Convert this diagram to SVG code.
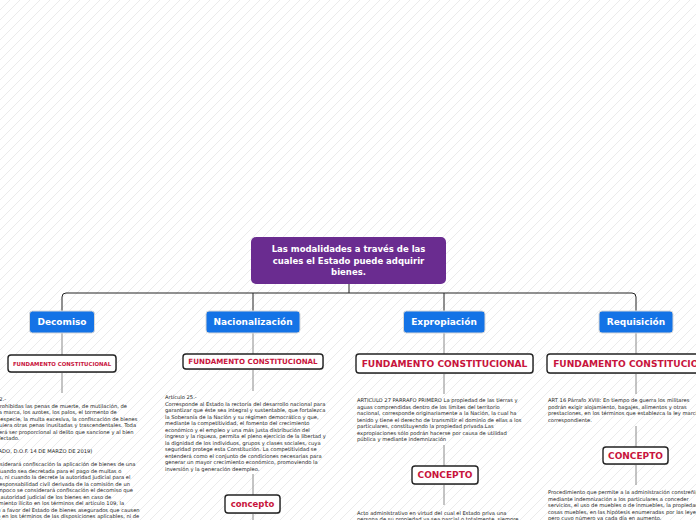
<svg xmlns="http://www.w3.org/2000/svg" width="696" height="520" viewBox="0 0 696 520">
<style>
.root{fill:#6a2c90}
.rt{font-family:"DejaVu Sans",Verdana,sans-serif;font-weight:bold;font-size:8.5px;fill:#fff;text-anchor:middle}
.blue{fill:#1473e6;stroke:#d8d8d8;stroke-width:1}
.bt{font-family:"DejaVu Sans",Verdana,sans-serif;font-weight:bold;font-size:9px;fill:#fff;text-anchor:middle}
.wb{fill:#fff;stroke:#222;stroke-width:1.4}
.sh{fill:#cfcfcf}
.red{font-family:"DejaVu Sans",Verdana,sans-serif;font-weight:bold;fill:#c8143c;text-anchor:middle}
.body{font-family:"DejaVu Sans",Verdana,sans-serif;font-size:5.2px;fill:#222}
.c1{fill:none;stroke:#222;stroke-width:1}
.c2{fill:none;stroke:#8a8a8a;stroke-width:1}
</style>
<defs>
<pattern id="hatch" width="10" height="10" patternUnits="userSpaceOnUse">
<path d="M-1,1 L1,-1 M0,10 L10,0 M9,11 L11,9" stroke="#ebebeb" stroke-width="1"/>
</pattern>
</defs>
<rect width="696" height="520" fill="#fff"/>
<rect width="696" height="520" fill="url(#hatch)"/>

<g id="connectors">
<path class="c1" d="M349,284 V293"/>
<path class="c1" d="M62,311 V297 Q62,293 66,293 H632 Q636,293 636,297 V311"/>
<path class="c1" d="M253,293 V311 M444,293 V311"/>
<path class="c2" d="M62,333 V355 M62,372 V393"/>
<path class="c2" d="M253,333 V354 M253,369 V391 M253,474 V495 M253,513 V520"/>
<path class="c2" d="M444,333 V354 M444,373 V394 M444,445 V466 M444,484 V505"/>
<path class="c2" d="M636,333 V354 M636,373 V394 M636,426 V447 M636,464 V485"/>
</g>

<g id="root">
<rect class="root" x="251" y="237" width="195" height="47" rx="5"/>
<text class="rt" x="348.5" y="252">Las modalidades a través de las</text>
<text class="rt" x="348.5" y="263.5">cuales el Estado puede adquirir</text>
<text class="rt" x="348.5" y="275">bienes.</text>
</g>

<g id="decomiso">
<rect class="blue" x="29.5" y="311" width="65" height="22" rx="3"/>
<text class="bt" x="62" y="325.3">Decomiso</text>
</g>
<g id="nacionalizacion">
<rect class="blue" x="206" y="311" width="94" height="22" rx="3"/>
<text class="bt" x="253" y="325.3">Nacionalización</text>
</g>
<g id="expropiacion">
<rect class="blue" x="403.5" y="311" width="81.5" height="22" rx="3"/>
<text class="bt" x="444" y="325.3">Expropiación</text>
</g>
<g id="requisicion">
<rect class="blue" x="599" y="311" width="74" height="22" rx="3"/>
<text class="bt" x="636" y="325.3">Requisición</text>
</g>

<g id="fund-decomiso">
<rect class="sh" x="9" y="356" width="108" height="17" rx="3"/>
<rect class="wb" x="8" y="355" width="108" height="17" rx="3"/>
<text class="red" x="62" y="365.5" font-size="5.4">FUNDAMENTO CONSTITUCIONAL</text>
</g>
<g id="fund-nacionalizacion">
<rect class="sh" x="184" y="355" width="140" height="15" rx="3"/>
<rect class="wb" x="183" y="354" width="140" height="15" rx="3"/>
<text class="red" x="253" y="364" font-size="7.1">FUNDAMENTO CONSTITUCIONAL</text>
</g>
<g id="fund-expropiacion">
<rect class="sh" x="357" y="355" width="177" height="19" rx="3"/>
<rect class="wb" x="356" y="354" width="177" height="19" rx="3"/>
<text class="red" x="444.5" y="366.8" font-size="9.1">FUNDAMENTO CONSTITUCIONAL</text>
</g>
<g id="fund-requisicion">
<rect class="sh" x="548" y="355" width="178" height="19" rx="3"/>
<rect class="wb" x="547" y="354" width="178" height="19" rx="3"/>
<text class="red" x="636" y="366.8" font-size="9.1">FUNDAMENTO CONSTITUCIONAL</text>
</g>

<g id="text-decomiso">
<text class="body" x="-25.5" y="401">
<tspan x="-25.5" dy="0">Artículo 22.-</tspan>
<tspan x="-25.5" dy="6.5">Quedan prohibidas las penas de muerte, de mutilación, de</tspan>
<tspan x="-25.5" dy="6.5">infamia, la marca, los azotes, los palos, el tormento de</tspan>
<tspan x="-25.5" dy="6.5">cualquier especie, la multa excesiva, la confiscación de bienes</tspan>
<tspan x="-25.5" dy="6.5">y cualesquiera otras penas inusitadas y trascendentales. Toda</tspan>
<tspan x="-25.5" dy="6.5">pena deberá ser proporcional al delito que sancione y al bien</tspan>
<tspan x="-25.5" dy="6.5">jurídico afectado.</tspan>
<tspan x="-25.5" dy="13">(REFORMADO, D.O.F. 14 DE MARZO DE 2019)</tspan>
<tspan x="-25.5" dy="13">No se considerará confiscación la aplicación de bienes de una</tspan>
<tspan x="-25.5" dy="6.5">persona cuando sea decretada para el pago de multas o</tspan>
<tspan x="-25.5" dy="6.5">impuestos, ni cuando la decrete la autoridad judicial para el</tspan>
<tspan x="-25.5" dy="6.5">pago de responsabilidad civil derivada de la comisión de un</tspan>
<tspan x="-25.5" dy="6.5">delito. Tampoco se considerará confiscación el decomiso que</tspan>
<tspan x="-25.5" dy="6.5">ordene la autoridad judicial de los bienes en caso de</tspan>
<tspan x="-25.5" dy="6.5">enriquecimiento ilícito en los términos del artículo 109, la</tspan>
<tspan x="-25.5" dy="6.5">aplicación a favor del Estado de bienes asegurados que causen</tspan>
<tspan x="-25.5" dy="6.5">abandono en los términos de las disposiciones aplicables, ni de</tspan>
</text>
</g>

<g id="text-nacionalizacion">
<text class="body" x="165" y="399">
<tspan x="165" dy="0">Artículo 25.-</tspan>
<tspan x="165" dy="6.5">Corresponde al Estado la rectoría del desarrollo nacional para</tspan>
<tspan x="165" dy="6.5">garantizar que éste sea integral y sustentable, que fortalezca</tspan>
<tspan x="165" dy="6.5">la Soberanía de la Nación y su régimen democrático y que,</tspan>
<tspan x="165" dy="6.5">mediante la competitividad, el fomento del crecimiento</tspan>
<tspan x="165" dy="6.5">económico y el empleo y una más justa distribución del</tspan>
<tspan x="165" dy="6.5">ingreso y la riqueza, permita el pleno ejercicio de la libertad y</tspan>
<tspan x="165" dy="6.5">la dignidad de los individuos, grupos y clases sociales, cuya</tspan>
<tspan x="165" dy="6.5">seguridad protege esta Constitución. La competitividad se</tspan>
<tspan x="165" dy="6.5">entenderá como el conjunto de condiciones necesarias para</tspan>
<tspan x="165" dy="6.5">generar un mayor crecimiento económico, promoviendo la</tspan>
<tspan x="165" dy="6.5">inversión y la generación deempleo.</tspan>
</text>
</g>
<g id="concepto-nacionalizacion">
<rect class="sh" x="226" y="496" width="55" height="18" rx="3"/>
<rect class="wb" x="225" y="495" width="55" height="18" rx="3"/>
<text class="red" x="252.5" y="507" font-size="8.5">concepto</text>
</g>

<g id="text-expropiacion">
<text class="body" x="357" y="402">
<tspan x="357" dy="0">ARTICULO 27 PARRAFO PRIMERO La propiedad de las tierras y</tspan>
<tspan x="357" dy="6.5">aguas comprendidas dentro de los límites del territorio</tspan>
<tspan x="357" dy="6.5">nacional, corresponde originariamente a la Nación, la cual ha</tspan>
<tspan x="357" dy="6.5">tenido y tiene el derecho de transmitir el dominio de ellas a los</tspan>
<tspan x="357" dy="6.5">particulares, constituyendo la propiedad privada.Las</tspan>
<tspan x="357" dy="6.5">expropiaciones sólo podrán hacerse por causa de utilidad</tspan>
<tspan x="357" dy="6.5">pública y mediante indemnización</tspan>
</text>
</g>
<g id="concepto-expropiacion">
<rect class="sh" x="413" y="467" width="66" height="18" rx="3"/>
<rect class="wb" x="412" y="466" width="66" height="18" rx="3"/>
<text class="red" x="445" y="478.3" font-size="9">CONCEPTO</text>
</g>
<g id="text-expropiacion-concepto">
<text class="body" x="357" y="514.5">
<tspan x="357" dy="0">Acto administrativo en virtud del cual el Estado priva una</tspan>
<tspan x="357" dy="6.5">persona de su propiedad ya sea parcial o totalmente, siempre</tspan>
</text>
</g>

<g id="text-requisicion">
<text class="body" x="548" y="402">
<tspan x="548" dy="0">ART 16 Párrafo XVIII:  En tiempo de guerra los militares</tspan>
<tspan x="548" dy="6.5">podrán exigir alojamiento, bagajes, alimentos y otras</tspan>
<tspan x="548" dy="6.5">prestaciones, en los términos que establezca la ley marcial</tspan>
<tspan x="548" dy="6.5">correspondiente.</tspan>
</text>
</g>
<g id="concepto-requisicion">
<rect class="sh" x="604" y="448" width="65" height="17" rx="3"/>
<rect class="wb" x="603" y="447" width="65" height="17" rx="3"/>
<text class="red" x="635.5" y="458.8" font-size="9">CONCEPTO</text>
</g>
<g id="text-requisicion-concepto">
<text class="body" x="548" y="494">
<tspan x="548" dy="0">Procedimiento que permite a la administración constreñir</tspan>
<tspan x="548" dy="6.5">mediante indemnización a los particulares a conceder</tspan>
<tspan x="548" dy="6.5">servicios, el uso de muebles o de inmuebles, la propiedad de</tspan>
<tspan x="548" dy="6.5">cosas muebles, en las hipótesis enumeradas por las leyes,</tspan>
<tspan x="548" dy="6.5">pero cuyo número va cada día en aumento.</tspan>
</text>
</g>
</svg>
